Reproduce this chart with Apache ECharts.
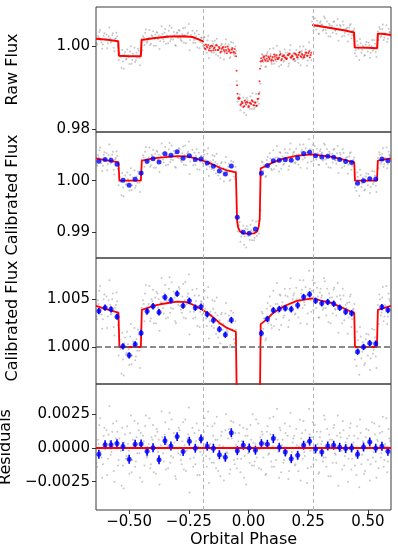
<!DOCTYPE html>
<html>
<head>
<meta charset="utf-8">
<title>Phase curve</title>
<script src="https://cdn.jsdelivr.net/npm/echarts@6/dist/echarts.min.js"></script>
<style>
  html, body { margin: 0; padding: 0; background: #fff; }
  #chart { width: 398px; height: 553px; }
</style>
</head>
<body>
<div id="chart"></div>
<script>
// ---- data ----

// unbinned samples, first half of the cadence (phase, raw, calibrated, residual)
const phaseGrid = [
  -0.640,-0.634,-0.628,-0.622,-0.616,-0.610,-0.604,-0.598,-0.592,-0.586,
  -0.580,-0.574,-0.568,-0.562,-0.556,-0.550,-0.544,-0.538,-0.532,-0.526,
  -0.520,-0.514,-0.508,-0.502,-0.496,-0.490,-0.484,-0.478,-0.472,-0.466,
  -0.460,-0.454,-0.448,-0.442,-0.436,-0.430,-0.424,-0.418,-0.412,-0.406,
  -0.400,-0.394,-0.388,-0.382,-0.376,-0.370,-0.364,-0.358,-0.352,-0.346,
  -0.340,-0.334,-0.328,-0.322,-0.316,-0.310,-0.304,-0.298,-0.292,-0.286,
  -0.280,-0.274,-0.268,-0.262,-0.256,-0.250,-0.244,-0.238,-0.232,-0.226,
  -0.220,-0.214,-0.208,-0.202,-0.196,-0.190,-0.184,-0.178,-0.172,-0.166,
  -0.160,-0.154,-0.148,-0.142,-0.136,-0.130,-0.124,-0.118,-0.112,-0.106,
  -0.100,-0.094,-0.088,-0.082,-0.076,-0.070,-0.064,-0.058,-0.052,-0.046,
  -0.040,-0.034,-0.028,-0.022,-0.016,-0.010,-0.004,0.002,0.008,0.014,
  0.020,0.026,0.032,0.038,0.044,0.050,0.056,0.062,0.068,0.074,
  0.080,0.086,0.092,0.098,0.104,0.110,0.116,0.122,0.128,0.134,
  0.140,0.146,0.152,0.158,0.164,0.170,0.176,0.182,0.188,0.194,
  0.200,0.206,0.212,0.218,0.224,0.230,0.236,0.242,0.248,0.254,
  0.260,0.266,0.272,0.278,0.284,0.290,0.296,0.302,0.308,0.314,
  0.320,0.326,0.332,0.338,0.344,0.350,0.356,0.362,0.368,0.374,
  0.380,0.386,0.392,0.398,0.404,0.410,0.416,0.422,0.428,0.434,
  0.440,0.446,0.452,0.458,0.464,0.470,0.476,0.482,0.488,0.494,
  0.500,0.506,0.512,0.518,0.524,0.530,0.536,0.542,0.548,0.554,
  0.560,0.566,0.572,0.578,0.584,0.590,0.596
];

const rawFlux = [
  1.0026,1.0003,1.0019,1.0038,1.0008,1.0003,1.0030,1.0015,0.9994,1.0023,
  1.0018,1.0010,1.0030,0.9987,1.0018,1.0023,0.9966,0.9975,0.9947,0.9962,
  0.9979,0.9967,0.9991,0.9973,0.9986,0.9957,0.9981,0.9995,0.9965,0.9971,
  0.9988,0.9953,1.0016,1.0023,1.0002,1.0039,1.0010,1.0019,1.0002,1.0025,
  1.0035,1.0017,1.0000,1.0031,1.0025,1.0011,1.0047,1.0016,1.0031,1.0005,
  1.0022,1.0036,1.0011,1.0043,1.0015,1.0026,1.0000,1.0032,1.0038,1.0018,
  1.0011,1.0042,1.0025,1.0006,1.0029,1.0052,1.0014,1.0021,1.0007,1.0030,
  1.0023,0.9996,1.0027,1.0009,1.0019,1.0000,1.0020,0.9991,1.0013,0.9970,
  0.9999,0.9984,1.0004,1.0012,0.9979,0.9999,0.9991,0.9971,1.0004,0.9992,
  0.9982,1.0015,0.9986,1.0003,0.9973,0.9995,1.0007,0.9975,0.9988,0.9866,
  0.9877,0.9845,0.9867,0.9876,0.9855,0.9834,0.9869,0.9857,0.9878,0.9848,
  0.9865,0.9852,0.9884,0.9866,0.9861,0.9908,0.9980,0.9961,0.9972,0.9950,
  0.9985,0.9966,0.9980,0.9956,0.9994,0.9971,0.9962,0.9978,0.9950,0.9985,
  0.9975,0.9962,0.9991,0.9969,0.9983,0.9957,1.0001,0.9972,0.9982,0.9963,
  0.9990,0.9968,0.9978,0.9953,0.9988,0.9998,0.9972,0.9982,0.9964,1.0008,
  0.9977,1.0058,1.0037,1.0066,1.0039,1.0051,1.0029,1.0059,1.0051,1.0039,
  1.0066,1.0030,1.0044,1.0053,1.0022,1.0048,1.0057,1.0037,1.0029,1.0064,
  1.0038,1.0047,1.0022,1.0050,1.0031,1.0038,1.0010,1.0043,1.0052,1.0025,
  1.0036,0.9982,0.9975,1.0002,0.9966,1.0006,0.9990,0.9997,0.9978,1.0009,
  0.9986,1.0001,0.9983,1.0014,0.9992,1.0005,0.9973,1.0034,1.0045,1.0021,
  1.0040,1.0014,1.0030,1.0049,1.0017,1.0033,1.0022
];

const calFlux = [
  1.0052,1.0029,1.0045,1.0064,1.0034,1.0029,1.0055,1.0041,1.0020,1.0049,
  1.0044,1.0035,1.0056,1.0012,1.0044,1.0048,0.9991,1.0000,0.9972,0.9987,
  1.0004,0.9992,1.0016,0.9998,1.0011,0.9982,1.0006,1.0020,0.9990,0.9996,
  1.0013,0.9978,1.0041,1.0049,1.0027,1.0065,1.0035,1.0045,1.0027,1.0050,
  1.0060,1.0042,1.0025,1.0056,1.0050,1.0036,1.0072,1.0041,1.0056,1.0030,
  1.0047,1.0061,1.0036,1.0068,1.0040,1.0052,1.0025,1.0057,1.0063,1.0043,
  1.0036,1.0066,1.0049,1.0030,1.0053,1.0076,1.0037,1.0045,1.0030,1.0054,
  1.0048,1.0022,1.0054,1.0037,1.0047,1.0028,1.0059,1.0030,1.0052,1.0009,
  1.0037,1.0022,1.0040,1.0048,1.0014,1.0033,1.0024,1.0004,1.0036,1.0024,
  1.0013,1.0046,1.0016,1.0033,1.0002,1.0025,1.0036,1.0004,1.0018,0.9902,
  0.9914,0.9882,0.9904,0.9913,0.9892,0.9871,0.9906,0.9894,0.9915,0.9885,
  0.9902,0.9889,0.9921,0.9903,0.9898,0.9943,1.0037,1.0019,1.0030,1.0009,
  1.0046,1.0027,1.0043,1.0020,1.0059,1.0037,1.0029,1.0045,1.0018,1.0054,
  1.0043,1.0031,1.0061,1.0039,1.0053,1.0028,1.0072,1.0043,1.0054,1.0034,
  1.0062,1.0040,1.0050,1.0025,1.0060,1.0070,1.0044,1.0054,1.0035,1.0080,
  1.0049,1.0059,1.0039,1.0067,1.0041,1.0053,1.0031,1.0061,1.0054,1.0041,
  1.0069,1.0033,1.0047,1.0056,1.0025,1.0052,1.0060,1.0040,1.0033,1.0067,
  1.0042,1.0050,1.0025,1.0054,1.0034,1.0041,1.0014,1.0047,1.0055,1.0029,
  1.0040,0.9987,0.9980,1.0007,0.9971,1.0011,0.9995,1.0002,0.9983,1.0014,
  0.9991,1.0006,0.9988,1.0019,0.9997,1.0010,0.9978,1.0044,1.0055,1.0033,
  1.0052,1.0027,1.0044,1.0064,1.0032,1.0050,1.0039
];

const residFlux = [
  0.0009,-0.0014,0.0003,0.0022,-0.0007,-0.0012,0.0015,0.0001,-0.0020,0.0010,
  0.0005,-0.0003,0.0018,-0.0025,0.0007,0.0012,-0.0009,0.0000,-0.0028,-0.0013,
  0.0004,-0.0008,0.0016,-0.0002,0.0011,-0.0018,0.0006,0.0020,-0.0010,-0.0004,
  0.0013,-0.0022,0.0002,0.0009,-0.0013,0.0024,-0.0006,0.0003,-0.0015,0.0008,
  0.0017,-0.0001,-0.0019,0.0012,0.0006,-0.0009,0.0027,-0.0004,0.0010,-0.0016,
  0.0001,0.0014,-0.0011,0.0021,-0.0007,0.0004,-0.0023,0.0009,0.0015,-0.0005,
  -0.0012,0.0019,0.0002,-0.0017,0.0007,0.0030,-0.0008,0.0000,-0.0014,0.0011,
  0.0005,-0.0020,0.0013,-0.0003,0.0008,-0.0010,0.0022,-0.0006,0.0016,-0.0026,
  0.0003,-0.0011,0.0009,0.0018,-0.0015,0.0006,-0.0002,-0.0021,0.0012,0.0001,
  -0.0009,0.0025,-0.0004,0.0014,-0.0016,0.0007,0.0019,-0.0012,0.0002,-0.0008,
  0.0011,-0.0018,0.0005,0.0015,-0.0006,-0.0027,0.0009,-0.0003,0.0017,-0.0013,
  0.0004,-0.0010,0.0021,-0.0001,-0.0015,0.0008,0.0012,-0.0007,0.0003,-0.0019,
  0.0016,-0.0004,0.0010,-0.0014,0.0023,0.0000,-0.0009,0.0006,-0.0022,0.0013,
  0.0002,-0.0011,0.0018,-0.0005,0.0009,-0.0017,0.0026,-0.0003,0.0007,-0.0013,
  0.0014,-0.0008,0.0001,-0.0024,0.0011,0.0020,-0.0006,0.0004,-0.0015,0.0029,
  -0.0002,0.0008,-0.0012,0.0017,-0.0009,0.0003,-0.0018,0.0012,0.0005,-0.0007,
  0.0021,-0.0014,0.0000,0.0010,-0.0021,0.0006,0.0015,-0.0004,-0.0011,0.0024,
  -0.0001,0.0008,-0.0016,0.0013,-0.0006,0.0002,-0.0025,0.0009,0.0018,-0.0008,
  0.0004,-0.0013,-0.0020,0.0007,-0.0029,0.0011,-0.0005,0.0002,-0.0017,0.0014,
  -0.0009,0.0006,-0.0012,0.0019,-0.0003,0.0010,-0.0022,0.0005,0.0016,-0.0007,
  0.0012,-0.0014,0.0003,0.0022,-0.0010,0.0007,-0.0004
];

// unbinned samples, second half of the cadence
const phaseGridB = [
  -0.637,-0.631,-0.625,-0.619,-0.613,-0.607,-0.601,-0.595,-0.589,-0.583,
  -0.577,-0.571,-0.565,-0.559,-0.553,-0.547,-0.541,-0.535,-0.529,-0.523,
  -0.517,-0.511,-0.505,-0.499,-0.493,-0.487,-0.481,-0.475,-0.469,-0.463,
  -0.457,-0.451,-0.445,-0.439,-0.433,-0.427,-0.421,-0.415,-0.409,-0.403,
  -0.397,-0.391,-0.385,-0.379,-0.373,-0.367,-0.361,-0.355,-0.349,-0.343,
  -0.337,-0.331,-0.325,-0.319,-0.313,-0.307,-0.301,-0.295,-0.289,-0.283,
  -0.277,-0.271,-0.265,-0.259,-0.253,-0.247,-0.241,-0.235,-0.229,-0.223,
  -0.217,-0.211,-0.205,-0.199,-0.193,-0.187,-0.181,-0.175,-0.169,-0.163,
  -0.157,-0.151,-0.145,-0.139,-0.133,-0.127,-0.121,-0.115,-0.109,-0.103,
  -0.097,-0.091,-0.085,-0.079,-0.073,-0.067,-0.061,-0.055,-0.049,-0.043,
  -0.037,-0.031,-0.025,-0.019,-0.013,-0.007,-0.001,0.005,0.011,0.017,
  0.023,0.029,0.035,0.041,0.047,0.053,0.059,0.065,0.071,0.077,
  0.083,0.089,0.095,0.101,0.107,0.113,0.119,0.125,0.131,0.137,
  0.143,0.149,0.155,0.161,0.167,0.173,0.179,0.185,0.191,0.197,
  0.203,0.209,0.215,0.221,0.227,0.233,0.239,0.245,0.251,0.257,
  0.263,0.269,0.275,0.281,0.287,0.293,0.299,0.305,0.311,0.317,
  0.323,0.329,0.335,0.341,0.347,0.353,0.359,0.365,0.371,0.377,
  0.383,0.389,0.395,0.401,0.407,0.413,0.419,0.425,0.431,0.437,
  0.443,0.449,0.455,0.461,0.467,0.473,0.479,0.485,0.491,0.497,
  0.503,0.509,0.515,0.521,0.527,0.533,0.539,0.545,0.551,0.557,
  0.563,0.569,0.575,0.581,0.587,0.593,0.599
];

const rawFluxB = [
  1.0006,1.0023,1.0033,1.0013,0.9993,1.0024,1.0015,1.0027,1.0006,1.0044,
  1.0008,1.0025,0.9995,1.0016,1.0031,0.9998,0.9982,0.9973,0.9990,0.9945,
  0.9985,0.9969,0.9978,0.9956,0.9999,0.9966,0.9976,0.9961,0.9983,0.9993,
  0.9971,0.9986,0.9989,1.0019,1.0031,1.0008,1.0015,1.0038,1.0005,1.0023,
  1.0000,1.0027,1.0033,1.0016,0.9992,1.0022,1.0028,1.0010,1.0040,1.0024,
  1.0006,1.0048,1.0016,1.0022,1.0033,1.0001,1.0030,1.0019,1.0036,1.0014,
  1.0028,1.0007,1.0044,1.0021,1.0032,0.9989,1.0026,1.0036,1.0014,1.0007,
  1.0036,1.0017,0.9994,1.0020,1.0006,1.0022,1.0001,0.9983,1.0024,0.9988,
  0.9995,1.0011,0.9984,1.0000,1.0017,0.9976,0.9995,1.0001,0.9986,0.9967,
  1.0004,0.9987,0.9997,0.9970,1.0009,0.9988,0.9979,0.9998,0.9915,0.9875,
  0.9883,0.9855,0.9864,0.9839,0.9870,0.9875,0.9856,0.9849,0.9867,0.9886,
  0.9848,0.9865,0.9856,0.9885,0.9889,0.9952,0.9978,0.9972,0.9949,0.9981,
  0.9964,0.9992,0.9960,0.9971,0.9957,0.9979,1.0000,0.9969,0.9987,0.9954,
  0.9979,0.9964,0.9984,0.9972,0.9951,0.9990,0.9969,0.9979,0.9984,0.9964,
  0.9978,0.9959,0.9998,0.9984,0.9969,0.9975,0.9991,0.9952,0.9984,0.9989,
  0.9965,1.0069,1.0045,1.0049,1.0060,1.0029,1.0055,1.0050,1.0036,1.0070,
  1.0038,1.0058,1.0023,1.0049,1.0044,1.0031,1.0059,1.0036,1.0049,1.0012,
  1.0050,1.0037,1.0058,1.0024,1.0041,1.0043,1.0027,1.0049,1.0018,1.0035,
  1.0041,0.9989,1.0011,0.9992,1.0016,0.9983,1.0000,0.9976,1.0003,0.9995,
  1.0008,0.9971,0.9999,0.9988,1.0013,0.9985,1.0001,1.0014,1.0040,1.0024,
  1.0051,1.0019,1.0028,1.0009,1.0041,1.0031,1.0015
];

const calFluxB = [
  1.0032,1.0049,1.0059,1.0039,1.0019,1.0050,1.0040,1.0053,1.0032,1.0070,
  1.0034,1.0050,1.0021,1.0041,1.0057,1.0023,1.0007,0.9998,1.0015,0.9970,
  1.0010,0.9994,1.0003,0.9981,1.0024,0.9991,1.0001,0.9986,1.0008,1.0018,
  0.9996,1.0011,1.0014,1.0045,1.0056,1.0034,1.0040,1.0064,1.0030,1.0048,
  1.0025,1.0052,1.0058,1.0041,1.0017,1.0047,1.0053,1.0035,1.0065,1.0049,
  1.0031,1.0073,1.0041,1.0047,1.0058,1.0027,1.0055,1.0044,1.0061,1.0039,
  1.0053,1.0031,1.0068,1.0045,1.0056,1.0013,1.0049,1.0060,1.0037,1.0031,
  1.0061,1.0043,1.0021,1.0048,1.0034,1.0050,1.0040,1.0022,1.0063,1.0027,
  1.0033,1.0049,1.0020,1.0036,1.0052,1.0010,1.0028,1.0034,1.0018,0.9999,
  1.0035,1.0018,1.0027,1.0000,1.0038,1.0018,1.0008,1.0027,0.9920,0.9913,
  0.9920,0.9892,0.9901,0.9876,0.9907,0.9912,0.9893,0.9886,0.9904,0.9923,
  0.9885,0.9902,0.9893,0.9922,0.9925,1.0009,1.0035,1.0030,1.0007,1.0040,
  1.0025,1.0053,1.0023,1.0035,1.0022,1.0045,1.0067,1.0036,1.0055,1.0023,
  1.0047,1.0033,1.0054,1.0042,1.0021,1.0061,1.0040,1.0050,1.0056,1.0035,
  1.0050,1.0031,1.0070,1.0056,1.0041,1.0047,1.0063,1.0024,1.0055,1.0061,
  1.0037,1.0070,1.0047,1.0050,1.0062,1.0031,1.0057,1.0052,1.0039,1.0072,
  1.0041,1.0061,1.0026,1.0052,1.0047,1.0035,1.0062,1.0039,1.0053,1.0015,
  1.0054,1.0040,1.0061,1.0028,1.0044,1.0046,1.0031,1.0053,1.0021,1.0039,
  1.0045,0.9994,1.0016,0.9997,1.0021,0.9988,1.0005,0.9981,1.0008,1.0000,
  1.0013,0.9976,1.0004,0.9993,1.0018,0.9990,1.0006,1.0024,1.0050,1.0036,
  1.0063,1.0032,1.0042,1.0024,1.0056,1.0048,1.0032
];

const residFluxB = [
  -0.0011,0.0006,0.0017,-0.0003,-0.0022,0.0009,0.0000,0.0013,-0.0008,0.0031,
  -0.0005,0.0012,-0.0017,0.0004,0.0020,-0.0013,0.0007,-0.0002,0.0015,-0.0030,
  0.0010,-0.0006,0.0003,-0.0019,0.0024,-0.0009,0.0001,-0.0014,0.0008,0.0018,
  -0.0004,0.0011,-0.0025,0.0005,0.0016,-0.0007,-0.0001,0.0022,-0.0012,0.0006,
  -0.0018,0.0009,0.0014,-0.0003,-0.0027,0.0002,0.0008,-0.0010,0.0019,0.0003,
  -0.0015,0.0026,-0.0006,0.0000,0.0011,-0.0021,0.0007,-0.0004,0.0013,-0.0009,
  0.0005,-0.0016,0.0021,-0.0002,0.0010,-0.0033,0.0004,0.0015,-0.0007,-0.0012,
  0.0018,0.0001,-0.0020,0.0008,-0.0005,0.0012,0.0003,-0.0014,0.0027,-0.0008,
  -0.0001,0.0016,-0.0011,0.0006,0.0023,-0.0017,0.0002,0.0009,-0.0006,-0.0024,
  0.0013,-0.0003,0.0007,-0.0019,0.0020,0.0000,-0.0009,0.0011,-0.0015,0.0005,
  0.0017,-0.0008,0.0002,-0.0022,0.0009,0.0014,-0.0004,-0.0011,0.0006,0.0025,
  -0.0013,0.0003,-0.0007,0.0018,-0.0001,-0.0016,0.0010,0.0004,-0.0020,0.0012,
  -0.0005,0.0022,-0.0010,0.0001,-0.0014,0.0008,0.0029,-0.0003,0.0015,-0.0018,
  0.0006,-0.0009,0.0011,-0.0002,-0.0023,0.0016,-0.0006,0.0004,0.0009,-0.0012,
  0.0002,-0.0017,0.0021,0.0007,-0.0008,-0.0003,0.0013,-0.0026,0.0005,0.0010,
  -0.0014,0.0019,-0.0004,0.0000,0.0012,-0.0019,0.0008,0.0003,-0.0010,0.0024,
  -0.0007,0.0014,-0.0021,0.0006,0.0001,-0.0011,0.0017,-0.0005,0.0009,-0.0028,
  0.0011,-0.0002,0.0020,-0.0013,0.0004,0.0007,-0.0008,0.0015,-0.0016,0.0002,
  0.0009,-0.0006,0.0016,-0.0003,0.0021,-0.0012,0.0005,-0.0019,0.0008,0.0000,
  0.0013,-0.0024,0.0004,-0.0007,0.0018,-0.0010,0.0006,-0.0015,0.0011,-0.0004,
  0.0023,-0.0009,0.0001,-0.0018,0.0014,0.0005,-0.0011
];

// raw model incl. systematics (smooth parts of the left / right AOR)
const rawModelLeft = [
  [-0.639,1.0017],[-0.600,1.0015],[-0.560,1.0012],[-0.546,1.0011],[-0.543,0.9976],
  [-0.500,0.9975],[-0.451,0.9975],[-0.448,1.0014],[-0.400,1.0018],[-0.330,1.0022],
  [-0.270,1.0023],[-0.235,1.0021],[-0.212,1.0016],[-0.187,1.0010]
];
const rawModelRight = [
  [0.267,1.0050],[0.300,1.0047],[0.350,1.0042],[0.400,1.0037],[0.442,1.0032],
  [0.445,0.9996],[0.500,0.9995],[0.539,0.9994],[0.542,1.0029],[0.560,1.0029],[0.597,1.0026]
];
// raw model in the middle AOR (noisy, drawn as dots)
const rawModelMid = [
  [-0.187,1.0001],[-0.181,0.9992],[-0.175,0.9998],[-0.169,1.0002],[-0.163,0.9994],
  [-0.157,0.9988],[-0.151,0.9999],[-0.145,0.9994],[-0.139,0.9990],[-0.133,1.0001],
  [-0.127,0.9990],[-0.121,0.9994],[-0.115,0.9986],[-0.109,0.9996],[-0.103,0.9990],
  [-0.097,0.9997],[-0.091,0.9982],[-0.085,0.9992],[-0.079,0.9990],[-0.073,0.9984],
  [-0.067,0.9994],[-0.061,0.9985],[-0.055,0.9982],
  [-0.052,0.9975],[-0.050,0.9940],[-0.048,0.9905],[-0.046,0.9885],
  [-0.043,0.9874],[-0.037,0.9874],[-0.031,0.9860],[-0.025,0.9862],[-0.019,0.9855],
  [-0.013,0.9863],[-0.007,0.9865],[-0.001,0.9853],[0.005,0.9863],[0.011,0.9860],
  [0.017,0.9867],[0.023,0.9857],[0.029,0.9863],[0.035,0.9856],[0.041,0.9873],
  [0.044,0.9885],[0.046,0.9915],[0.048,0.9945],[0.050,0.9962],
  [0.053,0.9970],[0.059,0.9965],[0.065,0.9975],[0.071,0.9964],[0.077,0.9969],
  [0.083,0.9974],[0.089,0.9968],[0.095,0.9964],[0.101,0.9973],[0.107,0.9979],
  [0.113,0.9967],[0.119,0.9972],[0.125,0.9969],[0.131,0.9978],[0.137,0.9965],
  [0.143,0.9975],[0.149,0.9977],[0.155,0.9972],[0.161,0.9969],[0.167,0.9977],
  [0.173,0.9981],[0.179,0.9973],[0.185,0.9975],[0.191,0.9969],[0.197,0.9981],
  [0.203,0.9973],[0.209,0.9978],[0.215,0.9985],[0.221,0.9973],[0.227,0.9978],
  [0.233,0.9973],[0.239,0.9984],[0.245,0.9976],[0.251,0.9982],[0.257,0.9972],
  [0.263,0.9983],
  [-0.184,0.9994],[-0.178,1.0003],[-0.172,0.9996],[-0.166,0.9989],[-0.160,0.9999],
  [-0.154,1.0000],[-0.148,0.9989],[-0.142,0.9996],[-0.136,1.0001],[-0.130,0.9990],
  [-0.124,0.9997],[-0.118,0.9984],[-0.112,0.9993],[-0.106,0.9997],[-0.100,0.9986],
  [-0.094,0.9990],[-0.088,0.9998],[-0.082,0.9987],[-0.076,0.9983],[-0.070,0.9991],
  [-0.064,0.9984],[-0.058,0.9992],
  [-0.040,0.9872],[-0.034,0.9858],[-0.028,0.9865],[-0.022,0.9853],[-0.016,0.9868],
  [-0.010,0.9859],[-0.004,0.9864],[0.002,0.9854],[0.008,0.9862],[0.014,0.9869],
  [0.020,0.9857],[0.026,0.9864],[0.032,0.9856],[0.038,0.9872],
  [0.056,0.9963],[0.062,0.9972],[0.068,0.9967],[0.074,0.9976],[0.080,0.9963],
  [0.086,0.9971],[0.092,0.9975],[0.098,0.9967],[0.104,0.9964],[0.110,0.9974],
  [0.116,0.9977],[0.122,0.9968],[0.128,0.9972],[0.134,0.9980],[0.140,0.9968],
  [0.146,0.9975],[0.152,0.9972],[0.158,0.9968],[0.164,0.9978],[0.170,0.9981],
  [0.176,0.9972],[0.182,0.9976],[0.188,0.9967],[0.194,0.9981],[0.200,0.9978],
  [0.206,0.9972],[0.212,0.9983],[0.218,0.9975],[0.224,0.9980],[0.230,0.9972],
  [0.236,0.9978],[0.242,0.9983],[0.248,0.9976],[0.254,0.9986],[0.260,0.9978]
];

// best-fit astrophysical model (calibrated flux)
const calModel = [
  [-0.639,1.0043],[-0.600,1.0040],[-0.560,1.0037],[-0.545,1.0036],[-0.541,1.0000],
  [-0.451,1.0000],[-0.447,1.0039],[-0.400,1.0043],[-0.370,1.00448],[-0.300,1.00475],
  [-0.260,1.0047],[-0.230,1.0044],[-0.200,1.0040],[-0.160,1.00335],[-0.120,1.0025],
  [-0.090,1.0020],[-0.053,1.0016],[-0.048,0.9925],[-0.044,0.9910],[-0.036,0.9902],
  [-0.022,0.9898],[0.000,0.98975],[0.022,0.9898],[0.036,0.9902],[0.043,0.9912],
  [0.047,0.9926],[0.051,1.0024],[0.077,1.0029],[0.100,1.0035],[0.150,1.0043],
  [0.200,1.0048],[0.240,1.0050],[0.270,1.0051],[0.300,1.0049],[0.350,1.0046],
  [0.385,1.0042],[0.430,1.0037],[0.443,1.0036],[0.446,1.0000],[0.538,1.0000],
  [0.542,1.0039],[0.597,1.0043]
];

// binned points
const binPhase = [
  -0.627,-0.601,-0.576,-0.551,-0.526,-0.500,-0.475,-0.450,-0.425,-0.400,
  -0.375,-0.350,-0.325,-0.299,-0.274,-0.248,-0.223,-0.199,-0.173,-0.147,
  -0.122,-0.097,-0.072,-0.047,-0.022,0.003,0.029,0.054,0.079,0.104,
  0.129,0.154,0.179,0.206,0.231,0.256,0.281,0.307,0.332,0.357,
  0.382,0.407,0.432,0.457,0.482,0.508,0.533,0.559,0.584
];
const binFlux = [
  1.00377,1.00412,1.00395,1.00318,1.00007,0.99913,1.00028,1.00147,1.00374,1.00427,
  1.00364,1.00521,1.00490,1.00559,1.00433,1.00485,1.00412,1.00422,1.00343,1.00280,
  1.00186,1.00129,1.00283,0.99292,0.99002,0.98983,0.99066,1.00144,1.00294,1.00385,
  1.00398,1.00406,1.00395,1.00437,1.00524,1.00552,1.00485,1.00458,1.00472,1.00454,
  1.00412,1.00370,1.00353,0.99951,1.00000,1.00039,1.00035,1.00419,1.00388
];
const binResid = [
  -0.00047,0.00024,0.00024,0.00032,0.00010,-0.00084,0.00027,0.00030,-0.00024,0.00002,
  -0.00087,0.00054,0.00015,0.00084,-0.00027,0.00050,-0.00002,0.00067,0.00013,-0.00002,
  -0.00050,-0.00069,0.00113,-0.00020,0.00020,0.00000,-0.00017,0.00032,0.00027,0.00069,
  0.00005,-0.00030,-0.00079,-0.00054,0.00020,0.00050,-0.00007,-0.00030,0.00015,0.00020,
  0.00005,-0.00005,0.00000,-0.00047,0.00007,0.00044,-0.00002,0.00013,-0.00024
];
const binErr = 0.00033;

// AOR boundaries (vertical dashed lines)
const aorBreaks = [-0.186, 0.266];

// tick labels
const xTicks = [-0.5, -0.25, 0, 0.25, 0.5];
const rawTicks = [0.98, 1.00];
const calTicks = [0.99, 1.00];
const zoomTicks = [1.000, 1.005];
const residTicks = [-0.0025, 0, 0.0025];

// ---- chart ----
const FONT = 'DejaVu Sans';
const GRAY = 'rgba(110,110,110,0.48)';
const RED = '#ff0000';
const BLUE = '#0000ff';
const X_MIN = -0.639, X_MAX = 0.597;

const fmt = (digits) => (v) => v.toFixed(digits).replace('-', '\u2212');
const zip = (xs, ys) => xs.map((x, i) => [x, ys[i]]);

const panels = [
  { top: 7, height: 125, min: 0.9793, max: 1.0093, ticks: rawTicks, digits: 2, name: 'Raw Flux',
    gray: zip(phaseGrid, rawFlux).concat(zip(phaseGridB, rawFluxB)) },
  { top: 132, height: 126, min: 0.98505, max: 1.00942, ticks: calTicks, digits: 2, name: 'Calibrated Flux',
    gray: zip(phaseGrid, calFlux).concat(zip(phaseGridB, calFluxB)) },
  { top: 258, height: 126, min: 0.99612, max: 1.00933, ticks: zoomTicks, digits: 3, name: 'Calibrated Flux',
    gray: zip(phaseGrid, calFlux).concat(zip(phaseGridB, calFluxB)) },
  { top: 384, height: 126, min: -0.00459, max: 0.00473, ticks: residTicks, digits: 4, name: 'Residuals',
    gray: zip(phaseGrid, residFlux).concat(zip(phaseGridB, residFluxB)) }
];

const grid = panels.map(p => ({
  left: 96, width: 295, top: p.top, height: p.height,
  outerBoundsMode: 'none', containLabel: false,
  show: true, borderColor: '#3a3a3a', borderWidth: 1, backgroundColor: 'transparent'
}));

const xAxis = panels.map((p, i) => {
  const last = i === panels.length - 1;
  return {
    type: 'value', gridIndex: i, min: X_MIN, max: X_MAX, position: 'bottom',
    axisLine: { show: false, onZero: false },
    splitLine: { show: false },
    axisTick: last ? { show: true, customValues: xTicks, length: 4, lineStyle: { color: '#333' } } : { show: false },
    axisLabel: last ? {
      show: true, customValues: xTicks, formatter: fmt(2), margin: 5,
      fontFamily: FONT, fontSize: 15, color: '#000'
    } : { show: false },
    name: last ? 'Orbital Phase' : '',
    nameLocation: 'middle', nameGap: 22,
    nameTextStyle: { fontFamily: FONT, fontSize: 16, color: '#000' }
  };
});

const yAxis = panels.map((p, i) => ({
  type: 'value', gridIndex: i, min: p.min, max: p.max, position: 'left',
  axisLine: { show: false, onZero: false },
  splitLine: { show: false },
  axisTick: { show: true, customValues: p.ticks, length: 4, lineStyle: { color: '#333' } },
  axisLabel: {
    customValues: p.ticks, formatter: fmt(p.digits), margin: 6,
    fontFamily: FONT, fontSize: 15, color: '#000'
  },
  name: p.name, nameLocation: 'middle', nameGap: 75,
  nameTextStyle: { fontFamily: FONT, fontSize: 16, color: '#000' }
}));

const breakLines = aorBreaks.map(x => ({
  xAxis: x, lineStyle: { color: '#b5b5b5', type: [4, 3], width: 1 }
}));

function grayScatter(i, extraLines) {
  return {
    type: 'scatter', xAxisIndex: i, yAxisIndex: i, z: 1,
    data: panels[i].gray, symbolSize: 2,
    itemStyle: { color: GRAY },
    markLine: {
      silent: true, symbol: ['none', 'none'], label: { show: false },
      data: breakLines.concat(extraLines || [])
    }
  };
}

function redLine(i, data, width) {
  return {
    type: 'line', xAxisIndex: i, yAxisIndex: i, z: 3,
    data: data, showSymbol: false, symbol: 'none',
    lineStyle: { color: RED, width: width }
  };
}

function errorBars(i, ys) {
  return {
    type: 'custom', xAxisIndex: i, yAxisIndex: i, z: 4, clip: true,
    data: binPhase.map((x, k) => [x, ys[k], binErr]),
    encode: { x: 0, y: 1 },
    renderItem: (params, api) => {
      const x = api.value(0), y = api.value(1), e = api.value(2);
      const hi = api.coord([x, y + e]);
      const lo = api.coord([x, y - e]);
      return {
        type: 'line',
        shape: { x1: hi[0], y1: hi[1], x2: lo[0], y2: lo[1] },
        style: { stroke: BLUE, lineWidth: 1.6 }
      };
    }
  };
}

function bluePoints(i, ys) {
  return {
    type: 'scatter', xAxisIndex: i, yAxisIndex: i, z: 5,
    data: zip(binPhase, ys), symbolSize: 5,
    itemStyle: { color: BLUE }
  };
}

const series = [
  // raw flux
  grayScatter(0),
  redLine(0, rawModelLeft, 2),
  redLine(0, rawModelRight, 2),
  {
    type: 'scatter', xAxisIndex: 0, yAxisIndex: 0, z: 3,
    data: rawModelMid, symbolSize: 2, itemStyle: { color: RED }
  },
  // calibrated flux
  grayScatter(1),
  redLine(1, calModel, 1.8),
  bluePoints(1, binFlux),
  // calibrated flux, zoomed
  grayScatter(2, [{ yAxis: 1.0, lineStyle: { color: '#666', type: [6, 3], width: 1.5 } }]),
  redLine(2, calModel, 1.8),
  errorBars(2, binFlux),
  bluePoints(2, binFlux),
  // residuals
  grayScatter(3, [{ yAxis: 0, lineStyle: { color: RED, type: 'solid', width: 2 } }]),
  errorBars(3, binResid),
  bluePoints(3, binResid)
];

const chart = echarts.init(document.getElementById('chart'));
chart.setOption({
  animation: false,
  backgroundColor: '#fff',
  grid: grid,
  xAxis: xAxis,
  yAxis: yAxis,
  series: series
});
</script>
</body>
</html>
